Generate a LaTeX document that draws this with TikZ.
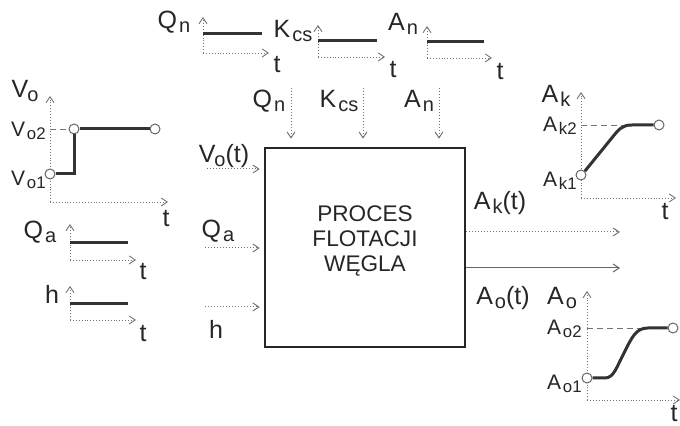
\documentclass[tikz,border=0pt]{standalone}
\usepackage{fontspec}
\setmainfont{Liberation Sans}
\usetikzlibrary{arrows.meta}
\newcommand{\sbx}[1]{\kern0.08em\raisebox{-0.3ex}{\scalebox{0.8}{#1}}}
\begin{document}
\begin{tikzpicture}[x=0.5pt,y=-0.5pt,
  tip/.style={-{Straight Barb[length=3pt,width=4pt]}},
  ax/.style={draw=black!55, line width=0.45pt, densely dotted, tip},
  sig/.style={draw=black!55, line width=0.5pt, densely dotted, tip},
  sigsolid/.style={draw=black!60, line width=0.5pt, tip},
  lvl/.style={draw=black!80, line width=1.5pt},
  guide/.style={draw=black!55, line width=0.45pt, dash pattern=on 3pt off 2pt},
  circ/.style={circle, draw=black!60, fill=white, line width=0.5pt, inner sep=0pt, minimum size=5pt},
  lab/.style={inner sep=0pt, font=\fontsize{12.5}{14}\selectfont, text=black!85},
  tick/.style={inner sep=0pt, font=\fontsize{10.5}{12}\selectfont, text=black!85, anchor=east},
  boxst/.style={draw=black!85, line width=1.3pt, minimum width=100pt, minimum height=99.5pt, inner sep=0pt}
]
\useasboundingbox (0,0) rectangle (680,426);

% main block
\node[boxst] (box) at (365,247.5) {};
\node[align=center, inner sep=0pt, font=\fontsize{11.3}{12.5}\selectfont, text=black!85] (txt) at (365,241) {PROCES\\FLOTACJI\\WĘGLA};

% ---------- top small graphs ----------
% Qn
\coordinate (qo) at (203,53);
\draw[ax] (qo) -- (203,17);
\draw[ax] (qo) -- (269,53);
\draw[lvl] (203,34) -- (262,34);
\node[lab] (qnt) at (277,65) {t};
\node[lab] (qnl) at (174,22) {Q\sbx{n}};
% Kcs
\coordinate (ko) at (318,57);
\draw[ax] (ko) -- (318,25);
\draw[ax] (ko) -- (385,57);
\draw[lvl] (318,41) -- (377,41);
\node[lab] (kct) at (393,70) {t};
\node[lab] (kcl) at (293,31) {K\sbx{cs}};
% An
\coordinate (ao) at (427,58);
\draw[ax] (ao) -- (427,26);
\draw[ax] (ao) -- (492,58);
\draw[lvl] (427,42) -- (484,42);
\node[lab] (ant) at (500,72) {t};
\node[lab] (anl) at (403,24) {A\sbx{n}};

% ---------- top inputs ----------
\coordinate (qin) at (291,88);
\coordinate (kin) at (363,88);
\coordinate (ain) at (439,88);
\draw[sig, shorten >=4pt] (qin) -- (qin |- box.north);
\draw[sig, shorten >=4pt] (kin) -- (kin |- box.north);
\draw[sig, shorten >=4pt] (ain) -- (ain |- box.north);
\node[lab] (qnm) at (269,101) {Q\sbx{n}};
\node[lab] (kcm) at (339,101) {K\sbx{cs}};
\node[lab] (anm) at (419,101) {A\sbx{n}};

% ---------- left inputs ----------
\coordinate (vin) at (207,169);
\coordinate (qain) at (205,248);
\coordinate (hin) at (205,307);
\draw[sig, shorten >=2pt] (vin) -- (vin -| box.west);
\draw[sig, shorten >=2pt] (qain) -- (qain -| box.west);
\draw[sig, shorten >=2pt] (hin) -- (hin -| box.west);
\node[lab] (vinl) at (224,156) {V\kern-0.12em\sbx{o}(t)};
\node[lab] (qainl) at (218,231) {Q\sbx{a}};
\node[lab] (hinl) at (216,329) {h};

% ---------- outputs ----------
\coordinate (akout) at (620,232);
\coordinate (aoout) at (620,268);
\draw[sig] (akout -| box.east) -- (akout);
\draw[sigsolid] (aoout -| box.east) -- (aoout);
\node[lab] (akl) at (500,203) {A\sbx{k}(t)};
\node[lab] (aol) at (503,298) {A\sbx{o}(t)};

% ---------- Vo graph ----------
\coordinate (vo) at (50,202);
\draw[ax] (vo) -- (50,96);
\draw[ax] (vo) -- (168,202);
\draw[guide] (50,129) -- (74,129);
\node[circ] (v1) at (50,174) {};
\node[circ] (v2) at (74,129) {};
\node[circ] (v3) at (155,129) {};
\draw[lvl, line cap=butt] (v1.east) -- (74,174) -- (v2.south);
\draw[lvl] (v2.east) -- (v3.west);
\node[lab] (vol) at (25,91) {V\kern-0.12em\sbx{o}};
\node[tick] (vo2) at (46,131) {V\sbx{o2}};
\node[tick] (vo1) at (46,180) {V\sbx{o1}};
\node[lab] (vot) at (166,219) {t};

% ---------- Qa graph ----------
\coordinate (qao) at (70,260);
\draw[ax] (qao) -- (70,224);
\draw[ax] (qao) -- (136,260);
\draw[lvl] (70,243) -- (128,243);
\node[lab] (qat) at (143,272) {t};
\node[lab] (qal) at (40,232) {Q\sbx{a}};

% ---------- h graph ----------
\coordinate (ho) at (70,320);
\draw[ax] (ho) -- (70,286);
\draw[ax] (ho) -- (136,320);
\draw[lvl] (70,304) -- (128,304);
\node[lab] (ht) at (143,334) {t};
\node[lab] (hl) at (52,294) {h};

% ---------- Ak graph ----------
\coordinate (ako) at (581,198);
\draw[ax] (ako) -- (581,92);
\draw[ax] (ako) -- (676,198);
\draw[guide] (581,125) -- (625,125);
\node[circ] (ak1) at (581,175) {};
\node[circ] (ak2) at (659,125) {};
\draw[lvl] (ak1.north east) -- (611,139) .. controls (619,129) and (622,125) .. (632,125) -- (ak2.west);
\node[lab] (akax) at (556,96) {A\sbx{k}};
\node[tick] (ak2l) at (577,126) {A\sbx{k2}};
\node[tick] (ak1l) at (577,181) {A\sbx{k1}};
\node[lab] (akt) at (665,212) {t};

% ---------- Ao graph ----------
\coordinate (aoo) at (587,400);
\draw[ax] (aoo) -- (587,291);
\draw[ax] (aoo) -- (680,400);
\draw[guide] (587,328) -- (645,328);
\node[circ] (ao1) at (587,378) {};
\node[circ] (ao2) at (673,328) {};
\draw[lvl] (ao1.east) -- (605,378) .. controls (614,378) and (617,366) .. (624,353) .. controls (632,337) and (636,328) .. (648,328) -- (ao2.west);
\node[lab] (aoax) at (562,298) {A\sbx{o}};
\node[tick] (ao2l) at (582,329) {A\sbx{o2}};
\node[tick] (ao1l) at (582,384) {A\sbx{o1}};
\node[lab] (aot) at (674,414) {t};
\end{tikzpicture}
\end{document}
